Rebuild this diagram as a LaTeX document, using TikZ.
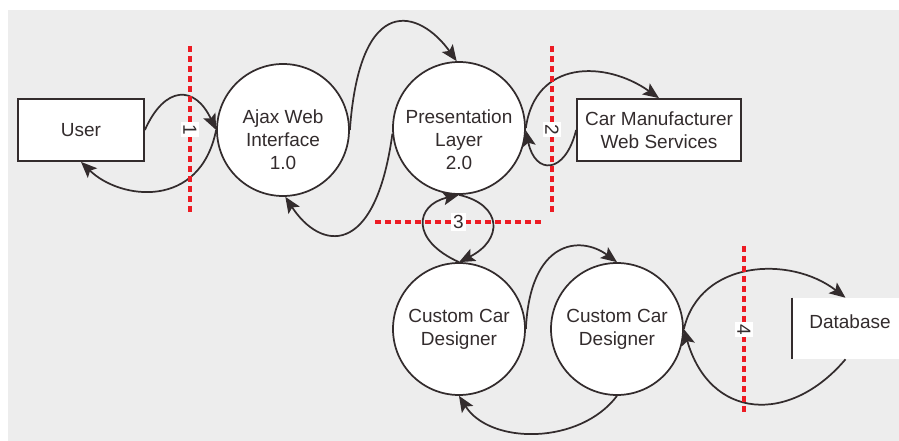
\documentclass[tikz,border=0pt]{standalone}
\usepackage{fontspec}
\setmainfont{Liberation Sans}
\usetikzlibrary{arrows.meta}
\definecolor{panelgray}{HTML}{EDEDED}
\definecolor{inkgray}{HTML}{332C2D}
\definecolor{trustred}{HTML}{ED1C24}

\begin{document}
\begin{tikzpicture}[
            x=0.75pt, y=-0.75pt,
                font=\fontsize{14.25}{17.3}\selectfont,
                process/.style={circle, draw=inkgray, line width=1.3pt, fill=white, minimum size=99pt, inner sep=0pt, text=inkgray, align=center},
                proc_text/.style={text=inkgray, align=center, inner sep=0pt},
                extern/.style={rectangle, draw=inkgray, line width=1.3pt, fill=white, minimum height=46.5pt, text=inkgray, align=center},
                store/.style={rectangle, draw=none, fill=white, minimum width=80.25pt, minimum height=45.75pt},
                flow/.style={draw=inkgray, line width=1.3pt, -{Stealth[length=12pt, width=10pt, inset=2.5pt]}},
                boundary/.style={draw=trustred, line width=2.3pt, dash pattern=on 4.5pt off 3pt},
                crossing/.style={fill=white, text=inkgray, inner sep=1.5pt}
            ]
              \useasboundingbox (0,0) rectangle (899,441);
              \fill[panelgray] (8,10) rectangle (899,441);

              % external entities and store
              \node[extern, minimum width=94.5pt] (user) at (81,130) {User};
              \node[extern, minimum width=123pt] (carmfr) at (659,130) {Car Manufacturer\\Web Services};
              \node[store] (db) at (845.5,328.5) {};
              \draw[inkgray, line width=1.3pt] (db.north west) -- (db.south west);
              \node[proc_text] (dbtext) at (850,322) {Database};

              % processes
              \node[process] (ajax) at (283,130) {};
              \node[proc_text] (ajaxtext) at (283,140) {Ajax Web\\Interface\\1.0};
              \node[process] (pres) at (459,128) {};
              \node[proc_text] (prestext) at (459,140) {Presentation\\Layer\\2.0};
              \node[process] (ccdA) at (459,329) {Custom Car\\Designer};
              \node[process] (ccdB) at (617,329) {Custom Car\\Designer};

              % data flows
              \draw[flow] (user.east) .. controls (165,85) and (195,85) .. (ajax.west);
              \draw[flow] (ajax.west) .. controls (200,210) and (120,200) .. (user.south);
              \draw[flow] (pres.185) .. controls (375,260) and (320,250) .. (ajax.-88);
              \draw[flow] (ajax.east) .. controls (360,-10) and (420,10) .. (pres.92);
              \draw[flow] (pres.east) .. controls (535,60) and (605,60) .. (carmfr.north);
              \draw[flow] (carmfr.west) .. controls (565,175) and (535,175) .. (pres.-2);
              \draw[flow] (ccdA.north) .. controls (410,240) and (415,205) .. (pres.south);
              \draw[flow] (pres.south) .. controls (503,205) and (503,240) .. (ccdA.north);
              \draw[flow] (ccdA.east) .. controls (530,240) and (580,235) .. (ccdB.north);
              \draw[flow] (ccdB.south) .. controls (580,445) and (490,445) .. (ccdA.south);
              \draw[flow] (ccdB.east) .. controls (700,260) and (790,255) .. (db.north);
              \draw[flow] (db.south) .. controls (790,425) and (710,420) .. (ccdB.east);

              % trust boundaries
              \draw[boundary] (190,46) -- (190,213) node[crossing, midway, rotate=-90] (cross1) {1};
              \draw[boundary] (552,46) -- (552,213) node[crossing, midway, rotate=-90] (cross2) {2};
              \draw[boundary] (375,222) -- (542,222) node[crossing, midway] (cross3) {3};
              \draw[boundary] (744,246) -- (744,413) node[crossing, midway, rotate=-90] (cross4) {4};
\end{tikzpicture}
\end{document}
